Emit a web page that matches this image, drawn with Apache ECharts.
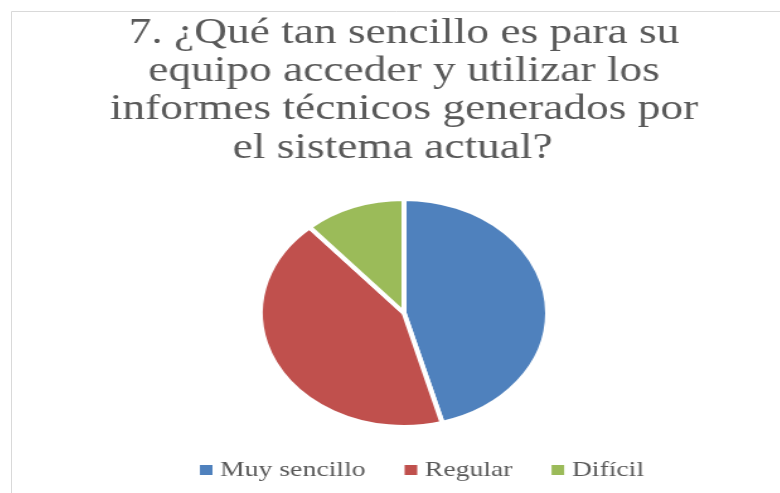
<!DOCTYPE html>
<html>
<head>
<meta charset="utf-8">
<script src="https://cdn.jsdelivr.net/npm/echarts@6/dist/echarts.min.js"></script>
<style>
  html, body { margin: 0; padding: 0; background: #fff; overflow: hidden; }
  #wrap { position: relative; width: 780px; height: 493px; }
  #frame, #chart { position: absolute; left: 0; top: 0; width: 780px; height: 493px; }
  /* the original picture is stretched sideways: pie is an ellipse, text is wide */
  #chart { transform: scaleX(1.26); transform-origin: 404px 0; }
</style>
</head>
<body>
<div id="wrap">
  <div id="frame"></div>
  <div id="chart"></div>
</div>
<script>
const titleLines = [
  '7. ¿Qué tan sencillo es para su',
  'equipo acceder y utilizar los',
  'informes técnicos generados por',
  'el sistema actual?  '
];
const categories = ['Muy sencillo', 'Regular', 'Difícil'];
const counts = [16, 15, 4];
const colors = ['#4F81BD', '#C0504D', '#9BBB59'];

// chart border, drawn unscaled
const frameChart = echarts.init(document.getElementById('frame'));
frameChart.setOption({
  animation: false,
  backgroundColor: '#fff',
  graphic: [{
    type: 'rect',
    shape: { x: 11.5, y: 11.5, width: 800, height: 500 },
    style: { fill: null, stroke: '#d9d9d9', lineWidth: 1 }
  }]
});

const chart = echarts.init(document.getElementById('chart'));
chart.setOption({
  animation: false,
  backgroundColor: 'transparent',
  color: colors,
  title: {
    text: titleLines.join('\n'),
    left: 404,
    textAlign: 'center',
    top: 14,
    padding: 0,
    textStyle: {
      fontFamily: 'Liberation Serif',
      fontWeight: 'normal',
      fontSize: 36,
      lineHeight: 38.3,
      color: '#595959'
    }
  },
  legend: {
    data: categories,
    left: 235,
    top: 454,
    itemWidth: 12,
    itemHeight: 12,
    itemGap: 29,
    icon: 'rect',
    textStyle: {
      fontFamily: 'Liberation Serif',
      fontSize: 22,
      color: '#595959'
    }
  },
  series: [{
    type: 'pie',
    center: [404, 313],
    radius: [0, 114],
    startAngle: 90,
    clockwise: true,
    label: { show: false },
    labelLine: { show: false },
    itemStyle: { borderColor: '#fff', borderWidth: 4 },
    emphasis: { disabled: true },
    data: categories.map((name, i) => ({ name, value: counts[i] }))
  }]
});
</script>
</body>
</html>
